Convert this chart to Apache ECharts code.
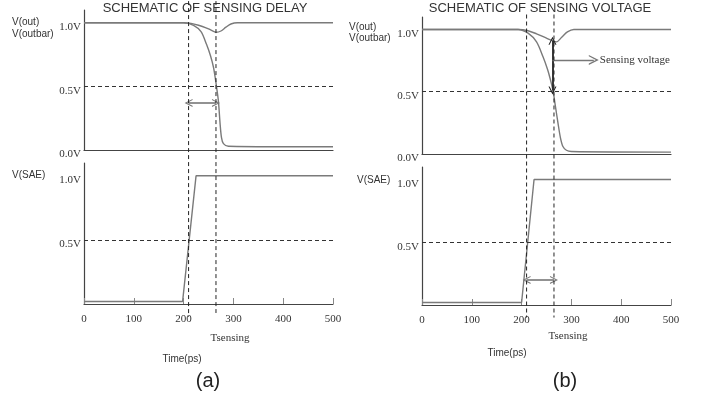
<html>
<head>
<meta charset="UTF-8">
<title>sensing</title>
<script src="https://cdn.jsdelivr.net/npm/echarts@6/dist/echarts.min.js"></script>
<style>
html, body { margin: 0; padding: 0; background: #fff; }
#main { width: 705px; height: 405px; }
</style>
</head>
<body>
<div id="main"></div>
<script>
// (a) sensing delay
var tOutA    = [0, 200, 215, 230, 245, 255, 265, 275, 285, 295, 308, 500];
var vOutA    = [1, 1, 0.995, 0.98, 0.96, 0.942, 0.925, 0.935, 0.965, 0.99, 1, 1];
var tOutbarA = [0, 200, 220, 235, 246, 254, 260, 263, 266, 270, 273, 276, 280, 290, 500];
var vOutbarA = [1, 1, 0.98, 0.93, 0.83, 0.74, 0.65, 0.58, 0.5, 0.38, 0.22, 0.1, 0.05, 0.03, 0.025];
var tSaeA    = [0, 198, 225, 500];
var vSaeA    = [0.02, 0.02, 1, 1];

// (b) sensing voltage
var tOutB    = [0, 193, 213, 230, 250, 262, 270, 280, 292, 305, 500];
var vOutB    = [1, 1, 0.99, 0.965, 0.93, 0.91, 0.9, 0.935, 0.98, 1, 1];
var tOutbarB = [0, 193, 213, 230, 243, 252, 257, 263, 268, 273, 278, 283, 290, 300, 500];
var vOutbarB = [1, 1, 0.97, 0.9, 0.78, 0.68, 0.61, 0.51, 0.38, 0.25, 0.13, 0.06, 0.03, 0.02, 0.015];
var tSaeB    = [0, 200, 225, 500];
var vSaeB    = [0.02, 0.02, 1, 1];

var xTicks = [0, 100, 200, 300, 400, 500];
var tStart = 210, tSense = 265;

function pairs(t, v) {
    return t.map(function (x, i) { return [x, v[i]]; });
}

var serif = "'Liberation Serif', 'DejaVu Serif', serif";
var sans = "'Liberation Sans', Arial, sans-serif";
var narrow = "'Liberation Sans Narrow', 'Liberation Sans', Arial, sans-serif";
var curveColor = '#7a7a7a';
var axisColor = '#444';
var openArrow = 'path://M0,10 L5,0 L10,10 L8.6,10 L5,3 L1.4,10 Z';

function yLabel(withZero) {
    return function (v) {
        if (v === 1) return '1.0V';
        if (v === 0.5) return '0.5V';
        if (v === 0 && withZero) return '0.0V';
        return '';
    };
}

function xAxisOf(grid, labels) {
    return {
        type: 'value', gridIndex: grid, min: 0, max: 500, interval: 100,
        axisLine: { lineStyle: { color: axisColor, width: 1.2 } },
        axisTick: { show: labels, inside: true, length: 6, lineStyle: { color: '#888' } },
        axisLabel: { show: labels, fontFamily: serif, fontSize: 11, color: '#333', margin: 10,
            formatter: function (v) { return xTicks.indexOf(v) >= 0 ? String(v) : ''; } },
        splitLine: { show: false }
    };
}

function yAxisOf(grid, withZero) {
    return {
        type: 'value', gridIndex: grid, min: 0, max: 1.1, interval: 0.5,
        axisLine: { show: true, lineStyle: { color: axisColor, width: 1.2 } },
        axisTick: { show: false },
        axisLabel: { fontFamily: serif, fontSize: 11, color: '#333', margin: 3,
            verticalAlign: 'top', lineHeight: 9, formatter: yLabel(withZero) },
        splitLine: { show: false }
    };
}

var halfLine = {
    silent: true, symbol: 'none', animation: false,
    label: { show: false },
    lineStyle: { color: '#333', type: [4, 3], width: 1 },
    data: [{ yAxis: 0.5 }]
};

function curve(idx, t, v, smooth, extra) {
    var s = {
        type: 'line', xAxisIndex: idx, yAxisIndex: idx,
        data: pairs(t, v), showSymbol: false, smooth: smooth,
        lineStyle: { color: curveColor, width: 1.4 },
        animation: false
    };
    if (extra) s.markLine = extra;
    return s;
}

function doubleArrow(v) {
    return {
        silent: true, animation: false,
        symbol: [openArrow, openArrow], symbolSize: 8,
        label: { show: false },
        lineStyle: { color: '#777', type: 'solid', width: 1.6 },
        data: [[{ coord: [tStart, v] }, { coord: [tSense, v] }]]
    };
}

var myChart = echarts.init(document.getElementById('main'));

var option = {
    backgroundColor: '#fff',
    animation: false,
    grid: [
        { left: 84, width: 249, top: 10, height: 140 },
        { left: 84, width: 249, top: 163, height: 141 },
        { left: 422, width: 249, top: 17, height: 137 },
        { left: 422, width: 249, top: 167, height: 138 }
    ],
    xAxis: [xAxisOf(0, false), xAxisOf(1, true), xAxisOf(2, false), xAxisOf(3, true)],
    yAxis: [yAxisOf(0, true), yAxisOf(1, false), yAxisOf(2, true), yAxisOf(3, false)],
    series: [
        curve(0, tOutA, vOutA, 0.3, halfLine),
        curve(0, tOutbarA, vOutbarA, 0.3, doubleArrow(0.37)),
        curve(1, tSaeA, vSaeA, false, halfLine),
        curve(2, tOutB, vOutB, 0.3, halfLine),
        curve(2, tOutbarB, vOutbarB, 0.3, {
            silent: true, animation: false,
            lineStyle: { color: '#222', type: 'solid', width: 1.8 },
            label: { show: false },
            symbol: [openArrow, openArrow], symbolSize: 8,
            data: [[{ coord: [262, 0.91] }, { coord: [262, 0.51] }]]
        }),
        {
            type: 'line', xAxisIndex: 2, yAxisIndex: 2, data: [], animation: false,
            markLine: {
                silent: true, animation: false,
                symbol: ['none', openArrow], symbolSize: 10,
                lineStyle: { color: '#777', type: 'solid', width: 1.4 },
                label: { show: true, position: 'end', formatter: 'Sensing voltage',
                    fontFamily: serif, fontSize: 11, color: '#333', distance: 6 },
                data: [[{ coord: [262, 0.755] }, { coord: [345, 0.755] }]]
            }
        },
        curve(3, tSaeB, vSaeB, false, halfLine),
        {
            type: 'line', xAxisIndex: 3, yAxisIndex: 3, data: [], animation: false,
            markLine: doubleArrow(0.2)
        }
    ]
};

myChart.setOption(option);

// vertical dashed guides through both plots, placed through the axes
function guide(gTop, gBot, t, yTop, yBot) {
    var p1 = myChart.convertToPixel({ gridIndex: gTop }, [t, yTop]);
    var p2 = myChart.convertToPixel({ gridIndex: gBot }, [t, yBot]);
    return {
        type: 'line', silent: true, z: 5,
        shape: { x1: p1[0], y1: p1[1], x2: p1[0], y2: p2[1] },
        style: { stroke: '#222', lineWidth: 1, lineDash: [4, 3] }
    };
}

function txt(x, y, s, font, size, align, color) {
    return {
        type: 'text', x: x, y: y, silent: true,
        style: { text: s, fontFamily: font, fontSize: size, fill: color || '#333',
            align: align || 'left', verticalAlign: 'middle' }
    };
}

var g = [
    guide(0, 1, tStart, 1.17, -0.1),
    guide(0, 1, tSense, 1.17, -0.07),
    guide(2, 3, tStart, 1.12, -0.1),
    guide(2, 3, tSense, 1.12, -0.1),
    txt(205, 8, 'SCHEMATIC OF SENSING DELAY', sans, 13, 'center'),
    txt(540, 8, 'SCHEMATIC OF SENSING VOLTAGE', sans, 13, 'center'),
    txt(12, 22, 'V(out)', narrow, 10),
    txt(12, 34, 'V(outbar)', narrow, 10),
    txt(12, 175, 'V(SAE)', narrow, 10),
    txt(349, 27, 'V(out)', narrow, 10),
    txt(349, 38, 'V(outbar)', narrow, 10),
    txt(357, 180, 'V(SAE)', narrow, 10),
    txt(230, 338, 'Tsensing', serif, 11, 'center'),
    txt(568, 336, 'Tsensing', serif, 11, 'center'),
    txt(182, 359, 'Time(ps)', narrow, 10, 'center'),
    txt(507, 353, 'Time(ps)', narrow, 10, 'center'),
    txt(208, 381, '(a)', narrow, 20, 'center', '#222'),
    txt(565, 381, '(b)', narrow, 20, 'center', '#222')
];

myChart.setOption({ graphic: g });
</script>
</body>
</html>
